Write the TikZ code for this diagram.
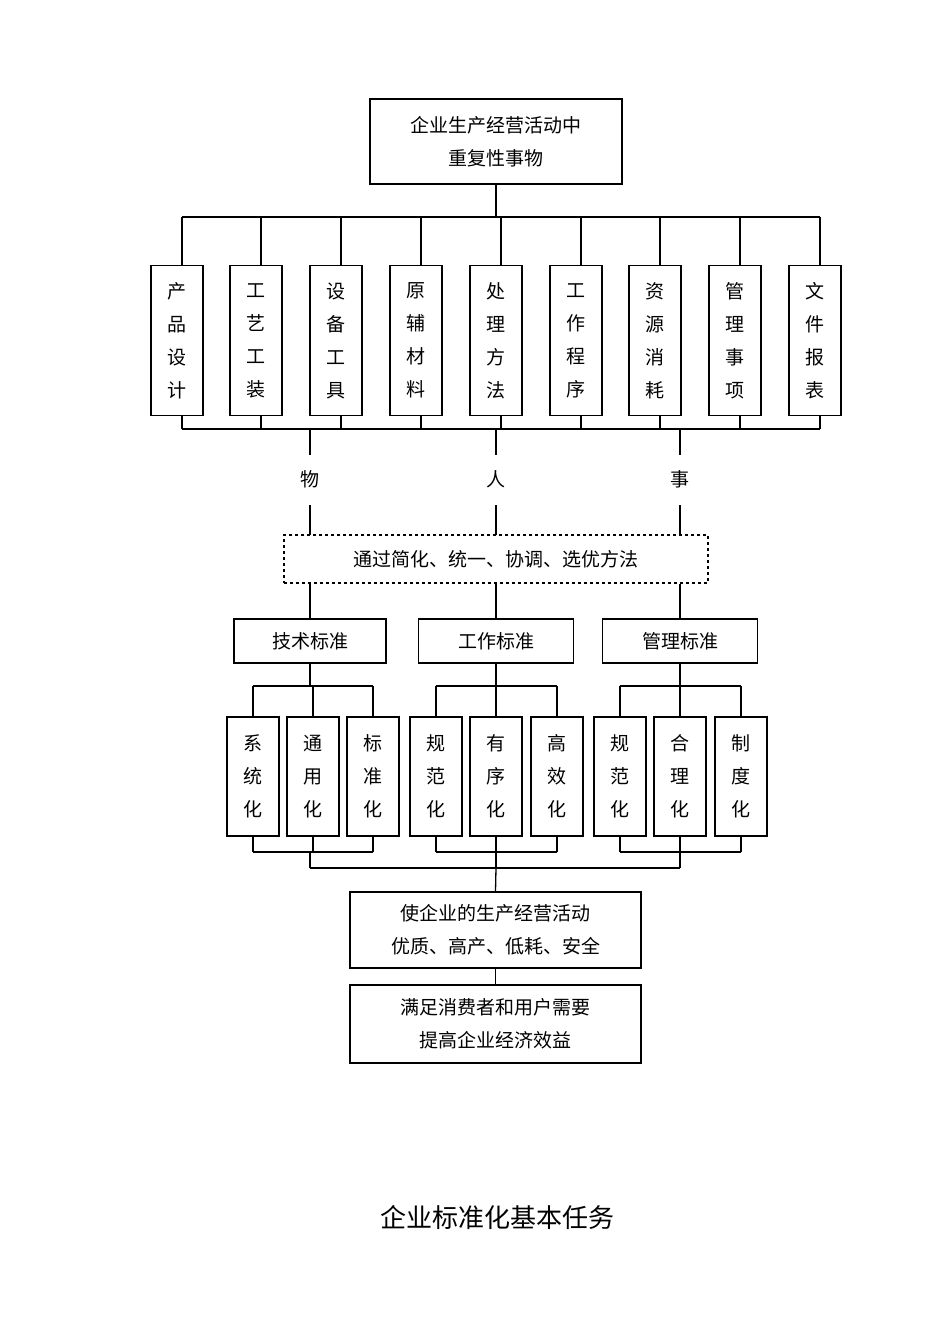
\documentclass[tikz,border=0pt]{standalone}
\usepackage{fontspec}
\setmainfont{Noto Sans CJK SC}
\begin{document}
\begin{tikzpicture}[x=1pt,y=-1pt,line width=1.3pt,
  bx/.style={draw,minimum width=#1,inner sep=0pt,align=center,font=\fontsize{19}{33}\selectfont},
  vb/.style={draw,minimum width=52pt,minimum height=150pt,inner sep=0pt,align=center,font=\fontsize{19}{33}\selectfont},
  sb/.style={draw,minimum width=52pt,minimum height=119pt,inner sep=0pt,align=center,font=\fontsize{19}{33}\selectfont},
  lb/.style={font=\fontsize{19}{22}\selectfont}]
\useasboundingbox (0,0) rectangle (950,1344);
\node[bx=252pt,minimum height=85pt] (top) at (496,141.5) {企业生产经营活动中\\重复性事物};
\coordinate (tb) at (496,217);
\draw (top.south) -- (tb);
\foreach \i/\x/\t in {1/177/产\\品\\设\\计,2/256/工\\艺\\工\\装,3/336/设\\备\\工\\具,4/416/原\\辅\\材\\料,5/496/处\\理\\方\\法,6/576/工\\作\\程\\序,7/655/资\\源\\消\\耗,8/735/管\\理\\事\\项,9/815/文\\件\\报\\表}{
  \node[vb] (v\i) at (\x,340.5) {\t};
  \coordinate (vt\i) at (\x+5,217);
  \coordinate (vb\i) at (\x+5,429);
  \draw (vt\i) -- (vt\i|-v\i.north);
  \draw (vb\i) -- (vb\i|-v\i.south);
}
\draw (vt1) -- (vt9); \draw (vb1) -- (vb9);
\node[draw,dashed,minimum width=424pt,minimum height=48pt,inner sep=0pt,font=\fontsize{19}{22}\selectfont] (mid) at (496,559) {通过简化、统一、协调、选优方法};
\foreach \j/\x/\t in {a/310/物,b/496/人,c/680/事}{
  \node[lb] (l\j) at (\x,479) {\t};
  \coordinate (u\j) at (\x,429);
  \draw (u\j) -- (\x,455);
  \draw (\x,505) -- (\x,535);
}
\node[bx=152pt,minimum height=44pt,font=\fontsize{19}{22}\selectfont] (s1) at (310,641) {技术标准};
\node[bx=155pt,minimum height=44pt,font=\fontsize{19}{22}\selectfont] (s2) at (496,641) {工作标准};
\node[bx=155pt,minimum height=44pt,font=\fontsize{19}{22}\selectfont] (s3) at (680,641) {管理标准};
\foreach \k in {1,2,3}{\draw (s\k.north|-mid.south) -- (s\k.north);}
\node[sb] (a1) at (253,776.5) {系\\统\\化};
\node[sb] (a2) at (313,776.5) {通\\用\\化};
\node[sb] (a3) at (373,776.5) {标\\准\\化};
\node[sb] (b1) at (436,776.5) {规\\范\\化};
\node[sb] (b2) at (496,776.5) {有\\序\\化};
\node[sb] (b3) at (557,776.5) {高\\效\\化};
\node[sb] (c1) at (620,776.5) {规\\范\\化};
\node[sb] (c2) at (680,776.5) {合\\理\\化};
\node[sb] (c3) at (741,776.5) {制\\度\\化};
\foreach \g/\s/\m in {a/s1/310,b/s2/496,c/s3/680}{
  \draw (\s.south) -- (\m,686);
  \draw (\g1.north|-0,686) -- (\g3.north|-0,686);
  \foreach \n in {1,2,3}{\draw (\g\n.north|-0,686) -- (\g\n.north);
    \draw (\g\n.south) -- (\g\n.south|-0,852);}
  \draw (\g1.south|-0,852) -- (\g3.south|-0,852);
  \draw (\m,852) -- (\m,868);
}
\draw (310,868) -- (680,868);
\node[bx=291pt,minimum height=76pt] (r1) at (495.5,930) {使企业的生产经营活动\\优质、高产、低耗、安全};
\node[bx=291pt,minimum height=78pt] (r2) at (495.5,1024) {满足消费者和用户需要\\提高企业经济效益};
\draw (496,868) -- (r1.north);
\draw (r1.south) -- (r2.north);
\node[font=\fontsize{26}{30}\selectfont] (cap) at (497,1217) {企业标准化基本任务};
\end{tikzpicture}
\end{document}
